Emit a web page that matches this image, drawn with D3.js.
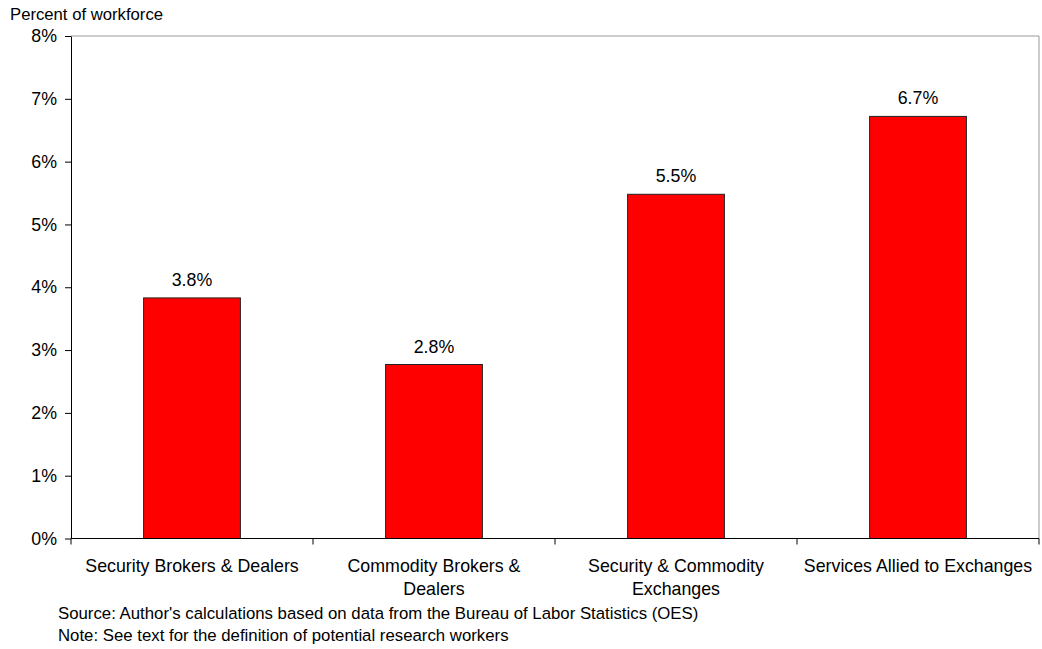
<!DOCTYPE html>
<html><head><meta charset="utf-8">
<script src="https://cdn.jsdelivr.net/npm/d3@7"></script>
<style>body{margin:0;background:#fff}svg{display:block}text{font-family:"Liberation Sans",Arial,sans-serif;fill:#000}</style>
</head><body>
<script>
const categories = [
  ["Security Brokers & Dealers"],
  ["Commodity Brokers &", "Dealers"],
  ["Security & Commodity", "Exchanges"],
  ["Services Allied to Exchanges"]
];
const values = [3.83, 2.77, 5.48, 6.72];
const yTicks = [0, 1, 2, 3, 4, 5, 6, 7, 8];
const yTitle = "Percent of workforce";
const notes = [
  "Source: Author's calculations based on data from the Bureau of Labor Statistics (OES)",
  "Note: See text for the definition of potential research workers"
];

const W = 1042, H = 649;
const m = {left: 71, top: 36, right: 1039, bottom: 538.5};
const svg = d3.select("body").append("svg").attr("width", W).attr("height", H);

const x = d3.scaleBand().domain(d3.range(categories.length)).range([m.left, m.right]).paddingInner(0.6).paddingOuter(0.3);
const y = d3.scaleLinear().domain([0, 8]).range([m.bottom, m.top]);

// plot frame (top/right light gray)
svg.append("path").attr("d", `M${m.left},${m.top}H${m.right}V${m.bottom}`).attr("fill", "none").attr("stroke", "#999").attr("stroke-width", 1);

// bars
svg.selectAll("rect.bar").data(values).enter().append("rect")
  .attr("x", (d, i) => x(i)).attr("width", x.bandwidth())
  .attr("y", d => y(d)).attr("height", d => y(0) - y(d))
  .attr("fill", "#ff0000").attr("stroke", "#222").attr("stroke-width", 1);

// value labels
svg.selectAll("text.val").data(values).enter().append("text")
  .attr("x", (d, i) => x(i) + x.bandwidth() / 2).attr("y", d => y(d) - 12)
  .attr("text-anchor", "middle").attr("font-size", 17.8)
  .text(d => d.toFixed(1) + "%");

// y axis
const yAxis = d3.axisLeft(y).tickValues(yTicks).tickSize(6).tickSizeOuter(0).tickFormat(d => d + "%");
const gy = svg.append("g").attr("transform", `translate(${m.left},0)`).call(yAxis);
gy.select(".domain").attr("stroke", "#000");
gy.selectAll(".tick line").attr("stroke", "#000");
gy.selectAll(".tick text").attr("font-size", 17.8).attr("font-family", '"Liberation Sans",Arial,sans-serif').attr("x", -14).attr("fill", "#000");

// x axis line and ticks at band boundaries
const bounds = d3.range(categories.length + 1).map(i => m.left + i * (m.right - m.left) / categories.length);
svg.append("line").attr("x1", m.left).attr("x2", m.right).attr("y1", y(0)).attr("y2", y(0)).attr("stroke", "#000");
svg.selectAll("line.xt").data(bounds).enter().append("line")
  .attr("x1", d => d).attr("x2", d => d).attr("y1", y(0)).attr("y2", y(0) + 6).attr("stroke", "#000");

// category labels
const cl = svg.selectAll("text.cat").data(categories).enter().append("text")
  .attr("text-anchor", "middle").attr("font-size", 17.8)
  .attr("x", (d, i) => x(i) + x.bandwidth() / 2).attr("y", 572);
cl.selectAll("tspan").data(d => d).enter().append("tspan")
  .attr("x", function() { return d3.select(this.parentNode).attr("x"); })
  .attr("dy", (d, i) => i === 0 ? 0 : 23).text(d => d);

// y title
svg.append("text").attr("x", 10).attr("y", 20).attr("font-size", 16.7).text(yTitle);

// notes
svg.selectAll("text.note").data(notes).enter().append("text")
  .attr("x", 58).attr("y", (d, i) => 619 + i * 22).attr("font-size", 16.8).text(d => d);
</script>
</body></html>
